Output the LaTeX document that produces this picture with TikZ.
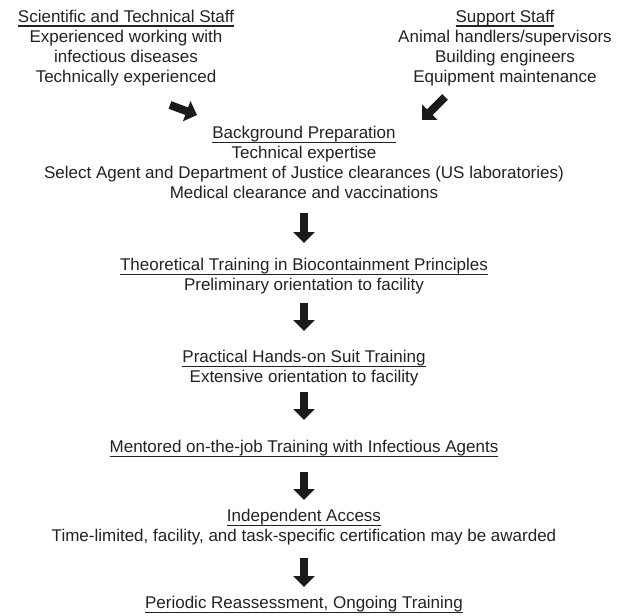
\documentclass[tikz,border=0pt]{standalone}
\usepackage{fontspec}
\setmainfont{Liberation Sans}
\usetikzlibrary{arrows.meta}
\definecolor{txt}{HTML}{222222}
\definecolor{arr}{HTML}{1A1A1A}
\newcommand{\ulx}[1]{\setbox0\hbox{#1}\rlap{\rule[-4.2pt]{\wd0}{1.2pt}}\box0}
\begin{document}
\begin{tikzpicture}[x=1pt,y=-1pt,
  blk/.style={font=\fontsize{17}{20}\selectfont, text=txt, align=center, inner sep=0pt, anchor=base},
  bigarrow/.style={draw=arr, line width=8pt, -{Triangle[width=21pt,length=11pt]}}]
\useasboundingbox (0,0) rectangle (617,615);
% anchor=base is the baseline of the last line of each block
\node[blk] (sci) at (126,82.5) {\ulx{Scientific and Technical Staff}\\Experienced working with\\infectious diseases\\Technically experienced};
\node[blk] (sup) at (505,82.5) {\ulx{Support Staff}\\Animal handlers/supervisors\\Building engineers\\Equipment maintenance};
\node[blk] (bg) at (304,198.5) {\ulx{Background Preparation}\\Technical expertise\\Select Agent and Department of Justice clearances (US laboratories)\\Medical clearance and vaccinations};
\node[blk] (theo) at (304,290.5) {\ulx{Theoretical Training in Biocontainment Principles}\\Preliminary orientation to facility};
\node[blk] (prac) at (304,382.5) {\ulx{Practical Hands-on Suit Training}\\Extensive orientation to facility};
\node[blk] (ment) at (304,452.5) {\ulx{Mentored on-the-job Training with Infectious Agents}};
\node[blk] (ind) at (304,541.5) {\ulx{Independent Access}\\Time-limited, facility, and task-specific certification may be awarded};
\node[blk] (per) at (304,608.5) {\ulx{Periodic Reassessment, Ongoing Training}};
\draw[bigarrow] ([xshift=44pt,yshift=-22.5pt]sci.base) -- ([xshift=-107pt,yshift=83.5pt]bg.base);
\draw[bigarrow] ([xshift=-60pt,yshift=-14.5pt]sup.base) -- ([xshift=118pt,yshift=78.5pt]bg.base);
\draw[bigarrow] ([yshift=-14.5pt]bg.base) -- ([yshift=47.5pt]theo.base);
\draw[bigarrow] ([yshift=-12.5pt]theo.base) -- ([yshift=51.5pt]prac.base);
\draw[bigarrow] ([yshift=-9.5pt]prac.base) -- ([yshift=32.5pt]ment.base);
\draw[bigarrow] ([yshift=-19.5pt]ment.base) -- ([yshift=41.5pt]ind.base);
\draw[bigarrow] ([yshift=-16.5pt]ind.base) -- ([yshift=21.5pt]per.base);
\end{tikzpicture}
\end{document}
